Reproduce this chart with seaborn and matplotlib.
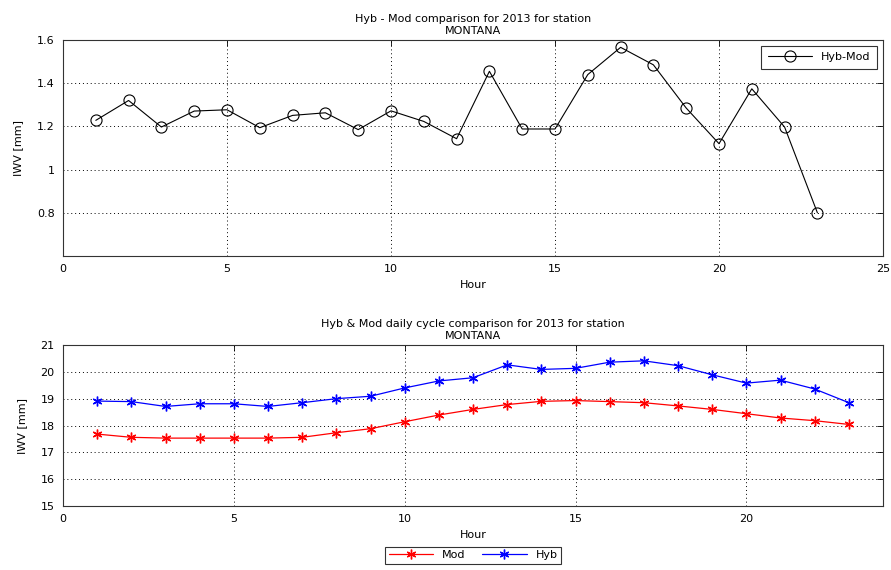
import matplotlib
matplotlib.use("Agg")
import matplotlib.pyplot as plt
import seaborn as sns
import pandas as pd

hours = list(range(1, 24))
hyb_minus_mod = [1.228, 1.32, 1.197, 1.271, 1.277, 1.194, 1.251, 1.263, 1.185, 1.272, 1.223, 1.143,
                 1.455, 1.188, 1.188, 1.44, 1.566, 1.485, 1.285, 1.12, 1.374, 1.197, 0.80]
mod_vals = [17.68, 17.56, 17.53, 17.53, 17.53, 17.53, 17.56, 17.73, 17.88, 18.14, 18.39, 18.60,
            18.78, 18.90, 18.93, 18.89, 18.85, 18.73, 18.60, 18.44, 18.28, 18.18, 18.04]
hyb_vals = [18.91, 18.89, 18.71, 18.81, 18.81, 18.71, 18.85, 19.00, 19.09, 19.40, 19.66, 19.78,
            20.26, 20.09, 20.13, 20.36, 20.41, 20.23, 19.89, 19.58, 19.69, 19.36, 18.85]

top_title = "Hyb - Mod comparison for 2013 for station\nMONTANA"
bottom_title = "Hyb & Mod daily cycle comparison for 2013 for station\nMONTANA"

sns.set_style("white")
plt.rcParams['font.family'] = ['DejaVu Sans']
plt.rcParams['font.size'] = 8
plt.rcParams['text.color'] = 'black'
plt.rcParams['axes.labelcolor'] = 'black'
plt.rcParams['xtick.color'] = 'black'
plt.rcParams['ytick.color'] = 'black'

fig = plt.figure(figsize=(8.91, 5.70), dpi=100)
ax1 = fig.add_axes([63/891, 1-256/570, 820/891, 216/570])
ax2 = fig.add_axes([63/891, 1-506/570, 820/891, 161/570])

df1 = pd.DataFrame({"Hour": hours, "diff": hyb_minus_mod})
sns.lineplot(data=df1, x="Hour", y="diff", ax=ax1, color="black", linewidth=0.8,
             marker="o", markersize=8, markerfacecolor="none", markeredgecolor="black",
             markeredgewidth=0.8, label="Hyb-Mod")

df2 = pd.DataFrame({"Hour": hours, "Mod": mod_vals, "Hyb": hyb_vals})
sns.lineplot(data=df2, x="Hour", y="Mod", ax=ax2, color="red", linewidth=0.9,
             marker=(6, 2, 0), markersize=7, markeredgecolor="red", markeredgewidth=1.0, label="Mod")
sns.lineplot(data=df2, x="Hour", y="Hyb", ax=ax2, color="blue", linewidth=0.9,
             marker=(6, 2, 0), markersize=7, markeredgecolor="blue", markeredgewidth=1.0, label="Hyb")

ax1.set_xlim(0, 25)
ax1.set_ylim(0.6, 1.6)
ax1.set_xticks([0, 5, 10, 15, 20, 25])
ax1.set_yticks([0.8, 1.0, 1.2, 1.4, 1.6])
ax1.set_yticklabels(["0.8", "1", "1.2", "1.4", "1.6"])
ax2.set_xlim(0, 24)
ax2.set_ylim(15, 21)
ax2.set_xticks([0, 5, 10, 15, 20])
ax2.set_yticks([15, 16, 17, 18, 19, 20, 21])

for ax, title in ((ax1, top_title), (ax2, bottom_title)):
    ax.set_title(title, fontsize=8, pad=4, linespacing=1.35)
    ax.set_xlabel("Hour", fontsize=8, labelpad=4)
    ax.set_ylabel("IWV [mm]", fontsize=8, labelpad=10)
    ax.grid(True, color="black", linestyle=(0, (1, 3)), linewidth=0.7)
    ax.tick_params(direction="in", length=4, top=True, right=True, labelsize=8, width=0.6, pad=6)
    for s in ax.spines.values():
        s.set_color("#333333")
        s.set_linewidth(0.8)

leg1 = ax1.legend(loc="upper right", fontsize=8, frameon=True, fancybox=False,
                  edgecolor="black", borderaxespad=0.5, handlelength=4, borderpad=0.6)
leg1.get_frame().set_linewidth(0.8)
leg2 = ax2.legend(loc="upper center", bbox_to_anchor=(0.5, -0.22), ncol=2, fontsize=8,
                  frameon=True, fancybox=False, edgecolor="black", handlelength=4,
                  columnspacing=1.5, borderpad=0.3)
leg2.get_frame().set_linewidth(0.8)

fig.savefig("out.png", dpi=100, facecolor="white")
